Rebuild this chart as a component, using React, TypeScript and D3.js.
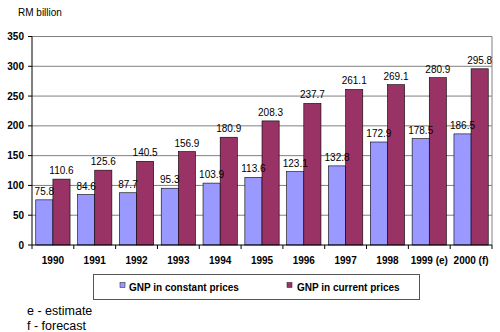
import React from "react";
import * as d3 from "d3";

const years = ["1990", "1991", "1992", "1993", "1994", "1995", "1996", "1997", "1998", "1999 (e)", "2000 (f)"];
const constantPrices = [75.8, 84.6, 87.7, 95.3, 103.9, 113.6, 123.1, 132.8, 172.9, 178.5, 186.5];
const currentPrices = [110.6, 125.6, 140.5, 156.9, 180.9, 208.3, 237.7, 261.1, 269.1, 280.9, 295.8];
const seriesNames = ["GNP in constant prices", "GNP in current prices"];
const seriesColors = ["#9999ff", "#993366"];
const yTicks = [0, 50, 100, 150, 200, 250, 300, 350];

export default function App() {
  const W = 500, H = 332;
  const left = 32, right = 492, top = 36.5, bottom = 245;
  const font = "'Liberation Sans', Arial, sans-serif";
  const x = d3.scaleBand<string>().domain(years).range([left, right]).paddingInner(0.18).paddingOuter(0.09);
  const band = d3.scaleBand<number>().domain([0, 1]).range([0, x.bandwidth()]);
  const y = d3.scaleLinear().domain([0, 350]).range([bottom, top]);
  const step = (right - left) / years.length;
  const series = [constantPrices, currentPrices];

  return (
    <svg width={W} height={H} style={{ position: "absolute", left: 0, top: 0, background: "#fff" }} fontFamily={font}>
      <rect x={0} y={0} width={W} height={H} fill="#fff" />
      <text x={18} y={16} fontSize={10} fill="#000">RM billion</text>
      {yTicks.map((t) => (
        <g key={t}>
          {t > 0 && <line x1={left} x2={right} y1={y(t)} y2={y(t)} stroke="#808080" strokeWidth={1} />}
          <line x1={left - 4} x2={left} y1={y(t)} y2={y(t)} stroke="#000" />
          <text x={24} y={y(t) + 3.5} fontSize={10} fontWeight="bold" textAnchor="end" fill="#000">{t}</text>
        </g>
      ))}
      <line x1={right} x2={right} y1={top} y2={bottom} stroke="#808080" />
      {years.map((yr, i) => (
        <g key={yr}>
          {series.map((s, k) => {
            const bx = (x(yr) as number) + (band(k) as number);
            const by = y(s[i]);
            return (
              <rect key={k} x={bx} y={by} width={band.bandwidth()} height={bottom - by} fill={seriesColors[k]} stroke="#000" strokeWidth={0.6} />
            );
          })}
          <text x={(x(yr) as number) + x.bandwidth() / 2} y={264} fontSize={10} fontWeight="bold" textAnchor="middle" fill="#000">{yr}</text>
        </g>
      ))}
      {years.map((yr, i) => (
        <g key={"l" + yr}>
          {series.map((s, k) => {
            const bx = (x(yr) as number) + (band(k) as number);
            const by = y(s[i]);
            return (
              <text key={k} x={bx + band.bandwidth() / 2} y={by - 5} fontSize={10} textAnchor="middle" fill="#000">{s[i]}</text>
            );
          })}
        </g>
      ))}
      {d3.range(years.length + 1).map((i) => (
        <line key={i} x1={left + i * step} x2={left + i * step} y1={bottom} y2={bottom + 4} stroke="#000" />
      ))}
      <line x1={left} x2={left} y1={top} y2={bottom} stroke="#000" />
      <line x1={left} x2={right} y1={bottom} y2={bottom} stroke="#000" />
      <rect x={93.5} y={274.5} width={326} height={25} fill="#fff" stroke="#555" strokeWidth={1} />
      {seriesNames.map((n, k) => (
        <g key={n}>
          <rect x={[120, 287][k]} y={282.5} width={5} height={5} fill={seriesColors[k]} stroke="#333" strokeWidth={0.6} />
          <text x={[129, 297][k]} y={290.5} fontSize={10} fontWeight="bold" fill="#000">{n}</text>
        </g>
      ))}
      <text x={27} y={315} fontSize={12.5} fill="#000">e - estimate</text>
      <text x={27} y={330} fontSize={12.5} fill="#000">f - forecast</text>
    </svg>
  );
}
